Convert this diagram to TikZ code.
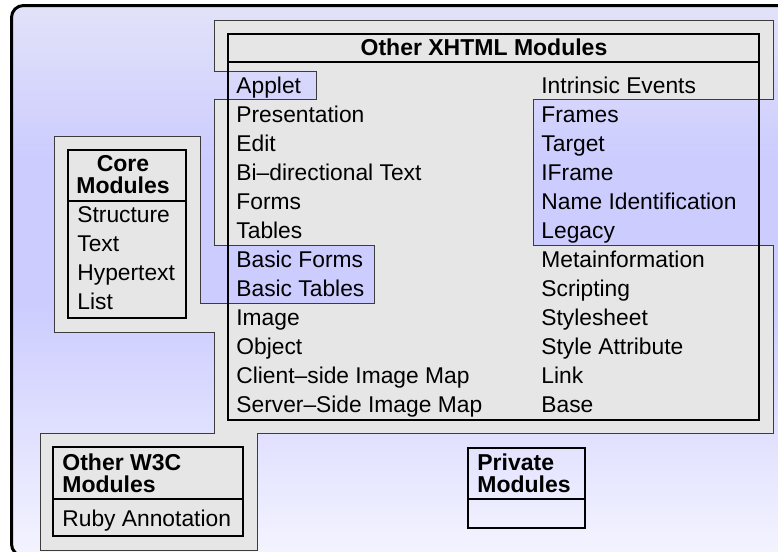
\documentclass[tikz,border=0pt]{standalone}
\usepackage{fontspec}
\setmainfont{Liberation Sans}
\definecolor{frametop}{HTML}{E2E2F9}
\definecolor{framemid}{HTML}{CCCCFF}
\definecolor{framebot}{HTML}{F4F4FF}
\definecolor{groupfill}{HTML}{E6E6E6}
\definecolor{groupline}{HTML}{3C3C3C}
\pgfdeclareverticalshading{framefade}{100bp}{color(0bp)=(framebot); color(25bp)=(framebot);
  color(48bp)=(framemid); color(61bp)=(framemid); color(75bp)=(frametop); color(100bp)=(frametop)}

\begin{document}
\begin{tikzpicture}[x=0.5pt, y=-0.5pt]
	  \tikzstyle{group} = [draw=groupline, fill=groupfill, line width=0.5pt]
	  \tikzstyle{box} = [draw=black, line width=1.1pt]
	  \tikzstyle{item} = [anchor=base west, inner sep=0pt, font=\fontsize{11.4}{13}\selectfont]
	  \tikzstyle{title} = [inner sep=0pt, font=\fontsize{11.5}{11}\selectfont\bfseries]
	  \useasboundingbox (0,0) rectangle (778,552);
	  \clip (0,0) rectangle (778,552);
	  \shade [shading=framefade, draw=black, line width=1.5pt, rounded corners=6pt]
	    (11.5,5.5) rectangle (820,556);
	  \draw [group] (214,20) -- (773,20) -- (773,99) -- (533,99) -- (533,245)
	    -- (773,245) -- (773,433) -- (257,433) -- (257,550) -- (40,550) -- (40,433)
	    -- (214,433) -- (214,332) -- (54,332) -- (54,136) -- (200,136) -- (200,303)
	    -- (374,303) -- (374,245) -- (214,245) -- (214,99) -- (316,99) -- (316,71)
	    -- (214,71) -- cycle;
	  \draw [box] (228,34) rectangle (759,420);
	  \draw [box] (228,62) -- (759,62);
	  \draw [box] (68,150) rectangle (186,318);
	  \draw [box] (68,201) -- (186,201);
	  \draw [box] (53,447) rectangle (243,536);
	  \draw [box] (53,499) -- (243,499);
	  \draw [box] (468,448) rectangle (585,528);
	  \draw [box] (468,499) -- (585,499);
	  \node [title, anchor=base] (xhtml) at (484,55) {Other XHTML Modules};
	  \node [title, anchor=north, align=center] (core) at (123,155.3) {Core\\Modules};
	  \node [title, anchor=north west, align=left] (w3c) at (62,453) {Other W3C\\Modules};
	  \node [title, anchor=north west, align=left] (private) at (477,453.5) {Private\\Modules};
	  \foreach \t [count=\i from 0] in {Structure, Text, Hypertext, List}
	    \node [item] (c\i) at (77, 222+29*\i) {\t};
	  \foreach \t [count=\i from 0] in {Applet, Presentation, Edit, Bi–directional Text,
	      Forms, Tables, Basic Forms, Basic Tables, Image, Object,
	      Client–side Image Map, Server–Side Image Map}
	    \node [item] (l\i) at (236, 93+29*\i) {\t};
	  \foreach \t [count=\i from 0] in {Intrinsic Events, Frames, Target, IFrame,
	      Name Identification, Legacy, Metainformation, Scripting, Stylesheet,
	      Style Attribute, Link, Base}
	    \node [item] (r\i) at (541, 93+29*\i) {\t};
	  \node [item] (ruby) at (62,526) {Ruby Annotation};
	\end{tikzpicture}
\end{document}
